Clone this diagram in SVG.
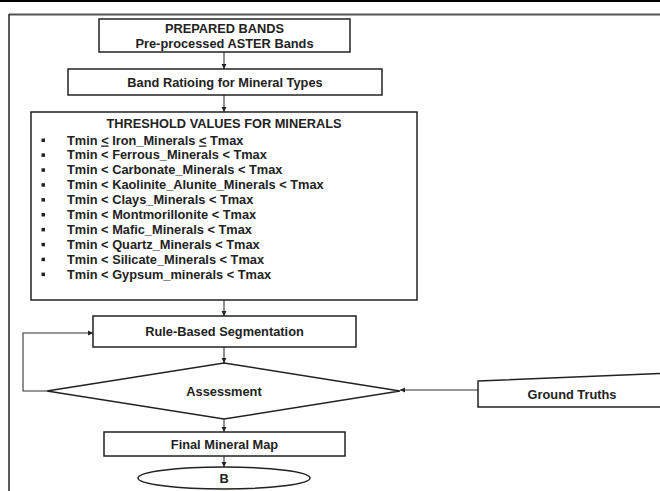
<svg xmlns="http://www.w3.org/2000/svg" width="660" height="491" viewBox="0 0 660 491">
<defs>
<marker id="ah" markerWidth="6" markerHeight="6" refX="5" refY="3" orient="auto" markerUnits="userSpaceOnUse">
<path d="M0,0.5 L5,3 L0,5.5 Z" fill="#222"/>
</marker>
<style>
.box{fill:#fff;stroke:#222;stroke-width:1.5}
.t{font-family:"Liberation Sans",Arial,sans-serif;font-weight:bold;font-size:12.8px;fill:#222}
.c{text-anchor:middle}
.ln{fill:none;stroke:#333;stroke-width:1.1}
.bul{fill:#222}
</style>
</defs>
<rect x="0" y="0" width="660" height="491" fill="#fff"/>
<rect x="0" y="0" width="660" height="2" fill="#000"/>
<g id="frame">
<line x1="9" y1="14.5" x2="660" y2="14.5" stroke="#555" stroke-width="2"/>
<line x1="9" y1="14" x2="9" y2="491" stroke="#222" stroke-width="1.5"/>
</g>
<g id="connectors">
<line class="ln" x1="224" y1="52" x2="224" y2="69" marker-end="url(#ah)"/>
<line class="ln" x1="224" y1="95" x2="224" y2="112" marker-end="url(#ah)"/>
<line class="ln" x1="224" y1="300" x2="224" y2="316" marker-end="url(#ah)"/>
<line class="ln" x1="224" y1="347" x2="224" y2="363" marker-end="url(#ah)"/>
<line class="ln" x1="224" y1="419" x2="224" y2="432" marker-end="url(#ah)"/>
<line class="ln" x1="224" y1="456" x2="224" y2="467" marker-end="url(#ah)"/>
<polyline class="ln" points="47,391 23,391 23,333 93,333" marker-end="url(#ah)"/>
<line class="ln" x1="478" y1="390" x2="400" y2="390" marker-end="url(#ah)"/>
</g>
<g id="prepared">
<rect class="box" x="99" y="19" width="251" height="33"/>
<text class="t c" x="224.5" y="33">PREPARED BANDS</text>
<text class="t c" x="224.5" y="47.5">Pre-processed ASTER Bands</text>
</g>
<g id="ratioing">
<rect class="box" x="68" y="69" width="314" height="26"/>
<text class="t c" x="225" y="87">Band Ratioing for Mineral Types</text>
</g>
<g id="threshold">
<rect class="box" x="31" y="112" width="386" height="188"/>
<text class="t c" x="224" y="128">THRESHOLD VALUES FOR MINERALS</text>
<g class="bul">
<rect x="41.5" y="138.5" width="3.5" height="3.5"/>
<rect x="41.5" y="153.4" width="3.5" height="3.5"/>
<rect x="41.5" y="168.3" width="3.5" height="3.5"/>
<rect x="41.5" y="183.2" width="3.5" height="3.5"/>
<rect x="41.5" y="198.1" width="3.5" height="3.5"/>
<rect x="41.5" y="213" width="3.5" height="3.5"/>
<rect x="41.5" y="227.9" width="3.5" height="3.5"/>
<rect x="41.5" y="242.8" width="3.5" height="3.5"/>
<rect x="41.5" y="257.7" width="3.5" height="3.5"/>
<rect x="41.5" y="272.6" width="3.5" height="3.5"/>
</g>
<text class="t" x="67" y="144.5">Tmin <tspan text-decoration="underline">&lt;</tspan> Iron_Minerals <tspan text-decoration="underline">&lt;</tspan> Tmax</text>
<text class="t" x="67" y="159.4">Tmin &lt; Ferrous_Minerals &lt; Tmax</text>
<text class="t" x="67" y="174.3">Tmin &lt; Carbonate_Minerals &lt; Tmax</text>
<text class="t" x="67" y="189.2">Tmin &lt; Kaolinite_Alunite_Minerals &lt; Tmax</text>
<text class="t" x="67" y="204.1">Tmin &lt; Clays_Minerals &lt; Tmax</text>
<text class="t" x="67" y="219">Tmin &lt; Montmorillonite &lt; Tmax</text>
<text class="t" x="67" y="233.9">Tmin &lt; Mafic_Minerals &lt; Tmax</text>
<text class="t" x="67" y="248.8">Tmin &lt; Quartz_Minerals &lt; Tmax</text>
<text class="t" x="67" y="263.7">Tmin &lt; Silicate_Minerals &lt; Tmax</text>
<text class="t" x="67" y="278.6">Tmin &lt; Gypsum_minerals &lt; Tmax</text>
</g>
<g id="segmentation">
<rect class="box" x="93" y="316" width="263" height="31"/>
<text class="t c" x="224.5" y="336">Rule-Based Segmentation</text>
</g>
<g id="assessment">
<polygon class="box" points="224,363 400,391 224,419 47,391"/>
<text class="t c" x="224" y="395.5">Assessment</text>
</g>
<g id="ground">
<polygon class="box" points="478,381 670,373 670,407 478,407"/>
<text class="t c" x="572" y="399">Ground Truths</text>
</g>
<g id="final">
<rect class="box" x="104" y="432" width="241" height="24"/>
<text class="t c" x="224.5" y="448.5">Final Mineral Map</text>
</g>
<g id="b">
<ellipse class="box" cx="224" cy="478" rx="86" ry="11"/>
<text class="t c" x="224" y="482.5">B</text>
</g>
</svg>
